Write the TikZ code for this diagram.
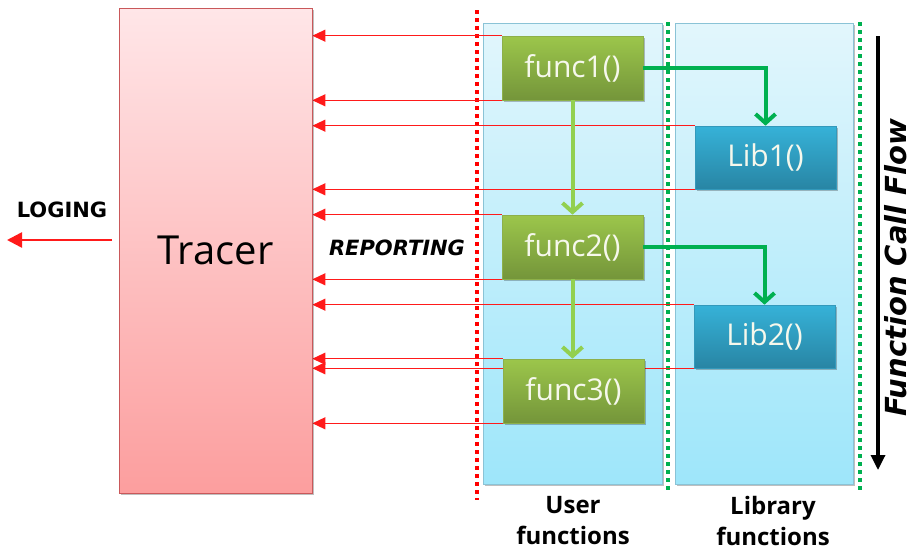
\documentclass[tikz,border=0pt]{standalone}
\usepackage{fontspec}
\setmainfont{Open Sans}
\newfontfamily\tagfont{DejaVu Sans}
\usetikzlibrary{arrows.meta,shadows}

\definecolor{tracerTop}{HTML}{FFE6E8}
\definecolor{tracerBot}{HTML}{FC9E9E}
\definecolor{tracerEdge}{HTML}{C9585A}
\definecolor{panelTop}{HTML}{E2F6FC}
\definecolor{panelBot}{HTML}{9EE6FA}
\definecolor{panelEdge}{HTML}{8AC3D6}
\definecolor{funcTop}{HTML}{9CC64B}
\definecolor{funcBot}{HTML}{74953A}
\definecolor{funcEdge}{HTML}{8DB04A}
\definecolor{libTop}{HTML}{36B2D8}
\definecolor{libBot}{HTML}{2885A4}
\definecolor{libEdge}{HTML}{3399BB}
\definecolor{callGreen}{HTML}{00B050}
\definecolor{flowGreen}{HTML}{92D050}
\definecolor{reportRed}{HTML}{FF1A1A}
\definecolor{boxText}{HTML}{F6F8EC}

\pgfdeclarelayer{panels}
\pgfdeclarelayer{wires}
\pgfsetlayers{panels,wires,main}

\tikzset{
  softshadow/.style={drop shadow={shadow xshift=1.5pt,shadow yshift=-1.5pt,opacity=0.25,fill=black}},
  tracerbox/.style={rectangle,draw=tracerEdge,line width=0.8pt,top color=tracerTop,bottom color=tracerBot,
    minimum width=193pt,minimum height=485pt,inner sep=0pt,softshadow,
    font=\fontsize{40}{44}\selectfont},
  panel/.style={rectangle,draw=panelEdge,line width=0.8pt,top color=panelTop,bottom color=panelBot,
    minimum width=179pt,minimum height=461pt,inner sep=0pt,softshadow},
  funcbox/.style={rectangle,draw=funcEdge,line width=0.6pt,top color=funcTop,bottom color=funcBot,
    minimum width=141pt,minimum height=64pt,inner sep=0pt,text=boxText,softshadow,
    font=\fontsize{30}{32}\selectfont},
  libbox/.style={rectangle,draw=libEdge,line width=0.6pt,top color=libTop,bottom color=libBot,
    minimum width=141pt,minimum height=63pt,inner sep=0pt,text=boxText,softshadow,
    font=\fontsize{30}{32}\selectfont},
  report/.style={draw=reportRed,line width=1.2pt,-{Triangle[length=13pt,width=12pt]}},
  callarrow/.style={draw=callGreen,line width=4pt,-{Straight Barb[length=9pt,width=20pt,line width=4pt]}},
  flowarrow/.style={draw=flowGreen,line width=4pt,-{Straight Barb[length=9pt,width=20pt,line width=4pt]}},
  reddots/.style={draw=red,line width=4pt,dash pattern=on 4pt off 4pt},
  greendots/.style={draw=callGreen,line width=3.5pt,dash pattern=on 4pt off 4pt},
  caption/.style={align=center,inner sep=0pt,font=\fontsize{24}{31}\selectfont\bfseries},
}

\begin{document}
\begin{tikzpicture}[x=1pt,y=-1pt]
\useasboundingbox (0,0) rectangle (914,552);

% background columns and separators
\begin{pgfonlayer}{panels}
  \node[panel] (userpanel) at (572.5,253.5) {};
  \node[panel,minimum width=178pt] (libpanel) at (764,253.5) {};
  \coordinate (rdtop) at (477,10);
  \coordinate (rdbot) at (477,500);
  \coordinate (gdAtop) at (668,22);
  \coordinate (gdAbot) at (668,493);
  \coordinate (gdBtop) at (860,22);
  \coordinate (gdBbot) at (860,493);
  \draw[reddots] (rdtop) -- (rdbot);
  \draw[greendots] (gdAtop) -- (gdAbot);
  \draw[greendots] (gdBtop) -- (gdBbot);
\end{pgfonlayer}

% tracer and function boxes
\node[tracerbox] (tracer) at (215.5,250.5) {Tracer};
\node[funcbox] (f1) at (572.5,68) {func1()};
\node[funcbox] (f2) at (572.5,247) {func2()};
\node[funcbox] (f3) at (573.5,391) {func3()};
\node[libbox] (l1) at (765.5,157.5) {Lib1()};
\node[libbox] (l2) at (764.5,336.5) {Lib2()};

% reports sent to the tracer
\begin{pgfonlayer}{wires}
  \foreach \src in {f1.north west,f1.south west,l1.north west,l1.south west,
                    f2.north west,f2.south west,l2.north west,f3.north west,
                    l2.south west,f3.south west}
    \draw[report] (\src) -- (\src -| tracer.east);
\end{pgfonlayer}

% calls into the library
\draw[callarrow] (f1.east) -| (l1.north);
\draw[callarrow] (f2.east) -| (l2.north);

% call sequence between user functions
\draw[flowarrow] (f1.south) -- (f2.north);
\draw[flowarrow] (f2.south) -- (f2.south |- f3.north);

% logging output
\coordinate (logstart) at (112,240);
\coordinate (logend) at (7,240);
\draw[draw=reportRed,line width=2.5pt,-{Triangle[length=15pt,width=15pt]}] (logstart) -- (logend);
\node[font=\tagfont\bfseries\fontsize{21}{24}\selectfont] (loging) at (62,209.5) {LOGING};
\node[font=\tagfont\bfseries\itshape\fontsize{21}{24}\selectfont] (reporting) at (397,247.5) {REPORTING};

% overall call direction
\coordinate (flowtop) at (878,36);
\coordinate (flowbot) at (878,470);
\draw[line width=3.3pt,-{Triangle[length=15pt,width=14pt]}] (flowtop) -- (flowbot);
\node[rotate=90,inner sep=0pt,font=\tagfont\bfseries\itshape\fontsize{29}{33}\selectfont] (flowlabel) at (896,267.5) {Function Call Flow};

% column captions
\node[caption] (usercap) at (573,521) {User\\functions};
\node[caption] (libcap) at (773,521) {Library\\functions};
\end{tikzpicture}
\end{document}
